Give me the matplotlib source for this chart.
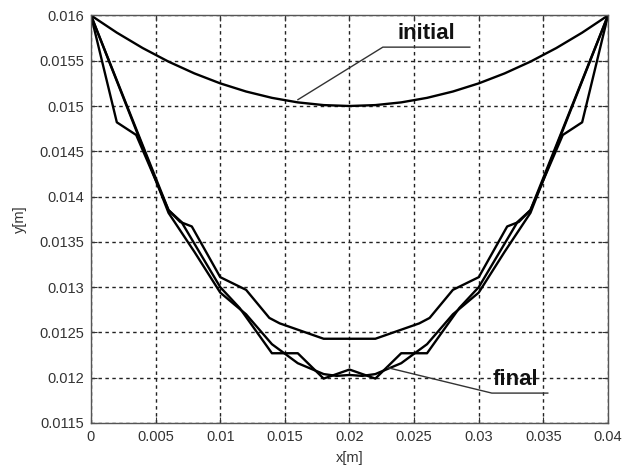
import numpy as np
import matplotlib
matplotlib.use("Agg")
import matplotlib.pyplot as plt

plt.rcParams['font.family'] = ['Liberation Sans', 'DejaVu Sans']

# initial shape
x_init = [0, 0.002, 0.004, 0.006, 0.008, 0.010, 0.012, 0.014, 0.016, 0.018, 0.020,
          0.022, 0.024, 0.026, 0.028, 0.030, 0.032, 0.034, 0.036, 0.038, 0.040]
y_init = [0.0160, 0.01581, 0.01564, 0.01549, 0.01536, 0.01525, 0.01516, 0.01509, 0.01504, 0.01501, 0.01500,
          0.01501, 0.01504, 0.01509, 0.01516, 0.01525, 0.01536, 0.01549, 0.01564, 0.01581, 0.0160]

# final shapes (three iterations)
x_fa = [0, 0.006, 0.0069, 0.0078, 0.010, 0.012, 0.0138, 0.0146, 0.018, 0.022,
        0.0254, 0.0262, 0.028, 0.030, 0.0322, 0.0331, 0.034, 0.040]
y_fa = [0.0160, 0.01385, 0.01372, 0.01367, 0.01311, 0.01297, 0.01266, 0.01260, 0.01243, 0.01243,
        0.01260, 0.01266, 0.01297, 0.01311, 0.01367, 0.01372, 0.01385, 0.0160]

x_fb = [0, 0.002, 0.0035, 0.006, 0.007, 0.010, 0.0115, 0.014, 0.016, 0.018, 0.020,
        0.022, 0.024, 0.026, 0.0285, 0.030, 0.033, 0.034, 0.0365, 0.038, 0.040]
y_fb = [0.0160, 0.01482, 0.01468, 0.01385, 0.01372, 0.01300, 0.01277, 0.01227, 0.01227, 0.01199, 0.01209,
        0.01199, 0.01227, 0.01227, 0.01277, 0.01300, 0.01372, 0.01385, 0.01468, 0.01482, 0.0160]

x_fc = [0, 0.004, 0.006, 0.008, 0.010, 0.012, 0.014, 0.016, 0.018, 0.019, 0.020,
        0.021, 0.022, 0.024, 0.026, 0.028, 0.030, 0.032, 0.034, 0.036, 0.040]
y_fc = [0.0160, 0.01455, 0.01382, 0.01339, 0.01294, 0.01270, 0.01237, 0.01216, 0.01204, 0.01202, 0.01203,
        0.01202, 0.01204, 0.01216, 0.01237, 0.01270, 0.01294, 0.01339, 0.01382, 0.01455, 0.0160]

xticks = [0, 0.005, 0.01, 0.015, 0.02, 0.025, 0.03, 0.035, 0.04]
xticklabels = ['0', '0.005', '0.01', '0.015', '0.02', '0.025', '0.03', '0.035', '0.04']
yticks = [0.0115, 0.012, 0.0125, 0.013, 0.0135, 0.014, 0.0145, 0.015, 0.0155, 0.016]
yticklabels = ['0.0115', '0.012', '0.0125', '0.013', '0.0135', '0.014', '0.0145', '0.015', '0.0155', '0.016']

fig = plt.figure(figsize=(6.34, 4.68), dpi=100)
ax = fig.add_axes([0.1435, 0.0962, 0.8155, 0.8708])

lw = 1.7
ax.plot(x_init, y_init, color='black', lw=lw)
ax.plot(x_fa, y_fa, color='black', lw=lw)
ax.plot(x_fb, y_fb, color='black', lw=lw)
ax.plot(x_fc, y_fc, color='black', lw=lw)

# leader lines for labels
ax.plot([0.01601, 0.02258, 0.02931], [0.01507, 0.01565, 0.01565], color='#333333', lw=1.0)
ax.plot([0.02297, 0.03101, 0.03534], [0.01211, 0.01183, 0.01183], color='#333333', lw=1.0)
ax.text(0.0237, 0.01568, 'initial', fontsize=16, fontweight='bold', color='#111111',
        va='bottom', ha='left')
ax.text(0.0311, 0.01186, 'final', fontsize=16, fontweight='bold', color='#111111',
        va='bottom', ha='left')

ax.set_xlim(0, 0.04)
ax.set_ylim(0.0115, 0.016)
ax.set_xticks(xticks)
ax.set_xticklabels(xticklabels)
ax.set_yticks(yticks)
ax.set_yticklabels(yticklabels)
ax.tick_params(direction='in', top=True, right=True, length=4, labelsize=10.5,
               labelcolor='#333333', color='#333333', pad=5)
ax.grid(True, color='#222222', linestyle=(0, (2.5, 2.5)), lw=1.0)
for s in ax.spines.values():
    s.set_color('#555555')
    s.set_linewidth(1.0)

ax.set_xlabel('x[m]', fontsize=10.5, color='#333333', labelpad=5)
ax.set_ylabel('y[m]', fontsize=10.5, color='#333333', labelpad=9)

fig.savefig('out.png', dpi=100)
